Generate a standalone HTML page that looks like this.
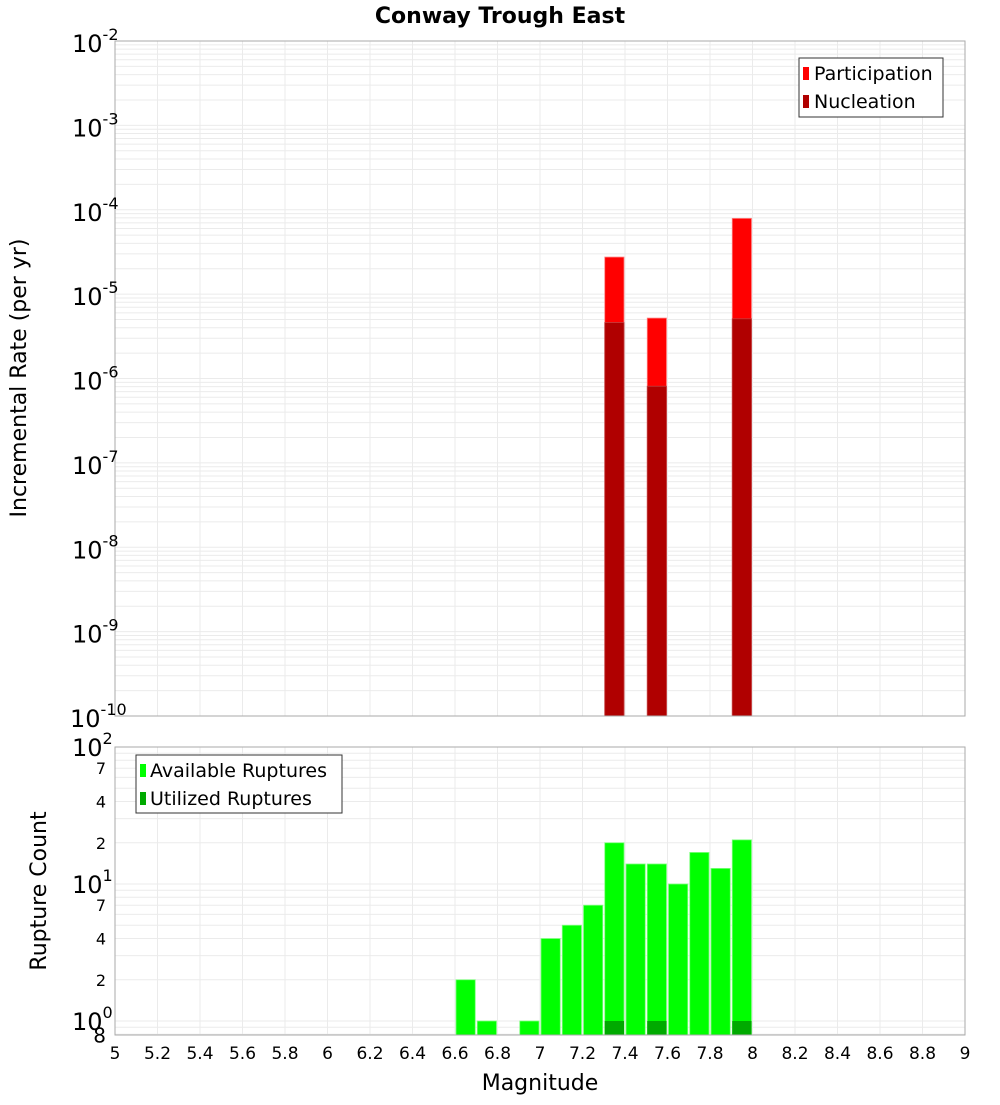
<!DOCTYPE html>
<html><head><meta charset="utf-8"><style>
body{margin:0;background:#fff;}
svg text{font-family:"DejaVu Sans","Liberation Sans",sans-serif;}
</style></head><body>
<svg id="chart" width="1000" height="1100" xmlns="http://www.w3.org/2000/svg">
<text x="500" y="23" text-anchor="middle" font-size="22" font-weight="bold">Conway Trough East</text>
<g id="topPlot"></g>
<g id="botPlot"></g>
<text transform="translate(26,378) rotate(-90)" text-anchor="middle" font-size="22">Incremental Rate (per yr)</text>
<text transform="translate(46,891) rotate(-90)" text-anchor="middle" font-size="22">Rupture Count</text>
<text x="540" y="1090" text-anchor="middle" font-size="22">Magnitude</text>
<g id="legends"></g>
</svg>
<script>
const mags=[7.35,7.55,7.95];
const participation=[2.75e-5,5.2e-6,7.9e-5];
const nucleation=[4.6e-6,8.1e-7,5.1e-6];
const countMags=[6.65,6.75,6.95,7.05,7.15,7.25,7.35,7.45,7.55,7.65,7.75,7.85,7.95];
const available=[2,1,1,4,5,7,20,14,14,10,17,13,21];
const utilizedMags=[7.35,7.55,7.95];
const utilized=[1,1,1];
const xTicks=[5,5.2,5.4,5.6,5.8,6,6.2,6.4,6.6,6.8,7,7.2,7.4,7.6,7.8,8,8.2,8.4,8.6,8.8,9];
const topExps=[-2,-3,-4,-5,-6,-7,-8,-9,-10];
const botMinor=[7,4,2];

const NS="http://www.w3.org/2000/svg";
const X0=115,X1=965;
const xs=m=>X0+(m-5)/4*(X1-X0);
const T0=41,T1=716;
const yt=v=>T0+(-2-Math.log10(v))/8*(T1-T0);
const B0=747,B1=1035,BD=137;
const yb=v=>B0+(2-Math.log10(v))*BD;
function mk(p,t,a){const e=document.createElementNS(NS,t);for(const k in a)e.setAttribute(k,a[k]);p.appendChild(e);return e;}
const topG=document.getElementById('topPlot'),botG=document.getElementById('botPlot');

mk(topG,'rect',{x:X0,y:T0,width:X1-X0,height:T1-T0,fill:'#fff'});
for(let d=-10;d<-2;d++)for(let k=1;k<10;k++){const y=yt(k*Math.pow(10,d));
 const l=mk(topG,'line',{x1:X0,x2:X1,y1:y,y2:y,stroke:'#ebebeb'});
 
 }
for(const t of xTicks){const x=xs(t);const l=mk(topG,'line',{x1:x,x2:x,y1:T0,y2:T1,stroke:'#ebebeb'});
 
 }
mags.forEach((m,i)=>{
 const x=xs(m-0.05)+1,w=xs(m+0.05)-xs(m-0.05)-2;
 const r=mk(topG,'rect',{x:x,y:yt(participation[i]),width:w,height:T1-yt(participation[i]),fill:'#ff0000',stroke:'#ff8080','stroke-width':0.8});
 
 
 const n=mk(topG,'rect',{x:x,y:yt(nucleation[i]),width:w,height:T1-yt(nucleation[i]),fill:'#b00000',stroke:'#c04040','stroke-width':0.8});
 
 
});
mk(topG,'rect',{x:X0,y:T0,width:X1-X0,height:T1-T0,fill:'none',stroke:'#aaa'});
topExps.forEach(e=>{const y=yt(Math.pow(10,e));
 const t=mk(topG,'text',{x:e<=-10?70:72,y:y+11,'font-size':24});
 
 
 t.textContent='10';const s=mk(t,'tspan',{dy:-12,'font-size':16});s.textContent=String(e);});

mk(botG,'rect',{x:X0,y:B0,width:X1-X0,height:B1-B0,fill:'#fff'});
for(let d=-1;d<2;d++)for(let k=1;k<10;k++){const v=k*Math.pow(10,d);const y=yb(v);if(y>B1||y<B0)continue;
 const l=mk(botG,'line',{x1:X0,x2:X1,y1:y,y2:y,stroke:'#ebebeb'});
 
 }
for(const t of xTicks){const x=xs(t);const l=mk(botG,'line',{x1:x,x2:x,y1:B0,y2:B1,stroke:'#ebebeb'});
 
 }
countMags.forEach((m,i)=>{
 const x=xs(m-0.05)+1,w=xs(m+0.05)-xs(m-0.05)-2;
 const r=mk(botG,'rect',{x:x,y:yb(available[i]),width:w,height:B1-yb(available[i]),fill:'#00ff00',stroke:'#80ff80','stroke-width':0.8});
 
 
});
utilizedMags.forEach((m,i)=>{
 const x=xs(m-0.05)+1,w=xs(m+0.05)-xs(m-0.05)-2;
 const r=mk(botG,'rect',{x:x,y:yb(utilized[i]),width:w,height:B1-yb(utilized[i]),fill:'#00aa00'});
 
 
});
mk(botG,'rect',{x:X0,y:B0,width:X1-X0,height:B1-B0,fill:'none',stroke:'#aaa'});
[2,1,0].forEach(e=>{const y=yb(Math.pow(10,e));
 const t=mk(botG,'text',{x:72,y:y+9,'font-size':24});
 
 
 t.textContent='10';const s=mk(t,'tspan',{dy:-12,'font-size':16});s.textContent=String(e);});
[1,0].forEach(d=>botMinor.forEach(k=>{const y=yb(k*Math.pow(10,d));
 const t=mk(botG,'text',{x:106,y:y+6,'font-size':16,'text-anchor':'end'});
 
 
 t.textContent=String(k);}));
{const t=mk(botG,'text',{x:106,y:yb(0.8)+8,'font-size':20,'text-anchor':'end'});
 
 
 t.textContent='8';}
xTicks.forEach(v=>{const t=mk(botG,'text',{x:xs(v),y:1059,'font-size':17,'text-anchor':'middle'});
 
 
 t.textContent=String(v);});

const lg=document.getElementById('legends');
lg.innerHTML='<g><rect x="799" y="58" width="144" height="59" fill="#fff" stroke="#333"/><rect x="803" y="67" width="6" height="13" fill="#ff0000"/><text x="814" y="80" font-size="19">Participation</text><rect x="803" y="95" width="6" height="13" fill="#b00000"/><text x="814" y="108" font-size="19">Nucleation</text></g><g><rect x="136" y="755" width="206" height="58" fill="#fff" stroke="#333"/><rect x="140" y="764" width="6" height="13" fill="#00ff00"/><text x="150" y="777" font-size="19">Available Ruptures</text><rect x="140" y="792" width="6" height="13" fill="#00aa00"/><text x="150" y="805" font-size="19">Utilized Ruptures</text></g>';
</script>
</body></html>
